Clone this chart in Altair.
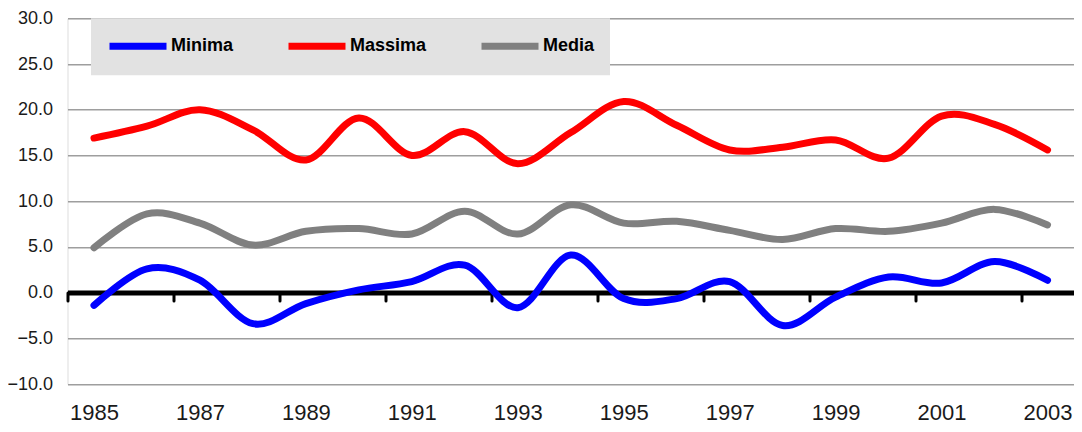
import altair as alt
import pandas as pd

years = [str(y) for y in range(1985, 2004)]
minima = [-1.4, 2.6, 1.35, -3.4, -1.2, 0.3, 1.2, 3.0, -1.65, 4.1, -0.66, -0.66, 1.2, -3.6, -0.5, 1.7, 1.05, 3.4, 1.35]
massima = [16.9, 18.2, 20.0, 17.8, 14.5, 19.1, 15.0, 17.6, 14.1, 17.5, 20.9, 18.3, 15.6, 15.9, 16.7, 14.7, 19.3, 18.4, 15.6]
media = [4.9, 8.6, 7.6, 5.2, 6.7, 7.0, 6.4, 8.9, 6.4, 9.6, 7.6, 7.8, 6.8, 5.8, 7.0, 6.7, 7.6, 9.1, 7.4]
series_names = ["Minima", "Massima", "Media"]
series_colors = ["#0000FF", "#FF0000", "#808080"]
y_ticks = [-10, -5, 0, 5, 10, 15, 20, 25, 30]

rows = []
for name, vals in zip(series_names, [minima, massima, media]):
    for yr, v in zip(years, vals):
        rows.append({"anno": yr, "serie": name, "valore": v})
df = pd.DataFrame(rows)

W = 1006.5
H = 365.7
FONT = "Liberation Sans, Arial, sans-serif"
even_test = "(toNumber(datum.value) - 1985) % 2 == 0"

chart = alt.Chart(df).mark_line(
    interpolate="cardinal", strokeWidth=7, strokeCap="round", strokeJoin="round"
).encode(
    x=alt.X("anno:O", sort=years,
            scale=alt.Scale(type="band", paddingInner=0, paddingOuter=0),
            axis=alt.Axis(title=None,
                          labelExpr="(toNumber(datum.value) - 1985) % 2 == 0 ? datum.value : ''",
                          tickBand="extent",
                          tickOpacity={"condition": {"test": even_test, "value": 0}, "value": 1},
                          offset=-H * 10 / 40,
                          domainColor="#000000", domainWidth=5,
                          ticks=True, tickColor="#000000", tickWidth=3, tickSize=8,
                          tickCap="round", labelPadding=102, labelAngle=0,
                          labelFontSize=22, labelFont=FONT, labelColor="#1a1a1a",
                          labelBaseline="top", labelOverlap=False, grid=False)),
    y=alt.Y("valore:Q",
            scale=alt.Scale(domain=[-10, 30], nice=False, zero=False),
            axis=alt.Axis(title=None, values=y_ticks, format=".1f",
                          domain=False, ticks=False, grid=True,
                          gridColor="#9e9e9e", gridWidth=1.5,
                          labelFontSize=18, labelFont=FONT, labelColor="#1a1a1a",
                          labelPadding=15)),
    color=alt.Color("serie:N",
                    scale=alt.Scale(domain=series_names, range=series_colors),
                    legend=alt.Legend(orient="none", legendX=23.5, legendY=0,
                                      direction="horizontal", title=None,
                                      symbolType="M-3,0H3", symbolSize=361,
                                      symbolOffset=19,
                                      symbolStrokeWidth=7, labelFont=FONT,
                                      labelFontSize=18, labelFontWeight="bold",
                                      labelColor="#000000", labelOffset=20,
                                      columnPadding=40, padding=15,
                                      fillColor="#e2e2e2")),
).properties(
    width=W, height=H,
    autosize=alt.AutoSizeParams(type="none"),
    padding={"left": 59.5, "top": 10.3, "right": 0, "bottom": 40},
).configure_view(
    fill="#e2e2e2", stroke="#9e9e9e", strokeWidth=1.5
).configure(background="#ffffff")

chart.save("out.html", embed_options={"renderer": "svg", "actions": False})
